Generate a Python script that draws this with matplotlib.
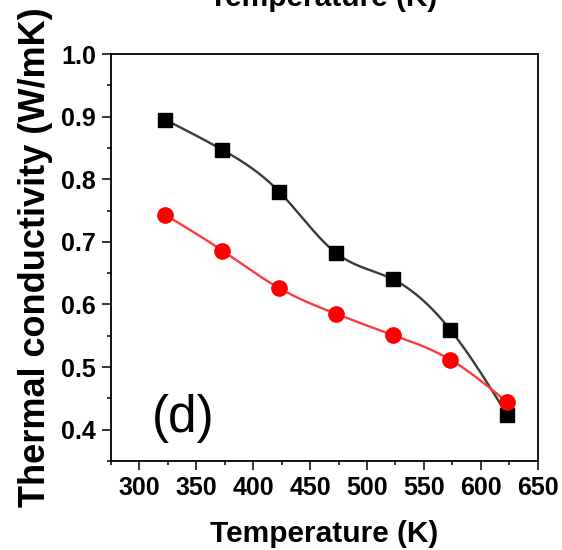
import numpy as np
import matplotlib
matplotlib.use("Agg")
import matplotlib.pyplot as plt
from matplotlib.ticker import MultipleLocator

plt.rcParams["font.family"] = ["Liberation Sans", "DejaVu Sans"]

# Measured thermal conductivity of the two samples
temperature = [323, 373, 423, 473, 523, 573, 623]
kappa_black = [0.895, 0.847, 0.780, 0.682, 0.640, 0.560, 0.424]
kappa_red = [0.743, 0.686, 0.626, 0.585, 0.551, 0.512, 0.444]

x_ticks = [300, 350, 400, 450, 500, 550, 600, 650]
y_ticks = [0.4, 0.5, 0.6, 0.7, 0.8, 0.9, 1.0]


def natural_spline(x, y, xs):
    """Natural cubic spline through (x, y), evaluated at xs."""
    x = np.asarray(x, float)
    y = np.asarray(y, float)
    n = len(x)
    h = np.diff(x)
    A = np.zeros((n, n))
    b = np.zeros(n)
    A[0, 0] = A[-1, -1] = 1.0
    for i in range(1, n - 1):
        A[i, i - 1] = h[i - 1]
        A[i, i] = 2 * (h[i - 1] + h[i])
        A[i, i + 1] = h[i]
        b[i] = 6 * ((y[i + 1] - y[i]) / h[i] - (y[i] - y[i - 1]) / h[i - 1])
    M = np.linalg.solve(A, b)
    idx = np.clip(np.searchsorted(x, xs) - 1, 0, n - 2)
    x0, x1 = x[idx], x[idx + 1]
    hh = x1 - x0
    t0 = x1 - xs
    t1 = xs - x0
    return (M[idx] * t0 ** 3 / (6 * hh) + M[idx + 1] * t1 ** 3 / (6 * hh)
            + (y[idx] / hh - M[idx] * hh / 6) * t0
            + (y[idx + 1] / hh - M[idx + 1] * hh / 6) * t1)


fig = plt.figure(figsize=(5.62, 5.50), dpi=100)
ax = fig.add_axes([0.197, 0.1618, 0.760, 0.740])

xs = np.linspace(temperature[0], temperature[-1], 400)
ax.plot(xs, natural_spline(temperature, kappa_black, xs), color="#3a3a3a", lw=1.7, zorder=2)
ax.plot(xs, natural_spline(temperature, kappa_red, xs), color="#ff3a3a", lw=1.7, zorder=2)
ax.plot(temperature, kappa_black, ls="none", marker="s", ms=10.5, color="black", zorder=3)
ax.plot(temperature, kappa_red, ls="none", marker="o", ms=11, color="red", zorder=4)

ax.set_xlim(275, 650)
ax.set_ylim(0.35, 1.0)
ax.set_xticks(x_ticks)
ax.set_yticks(y_ticks)
ax.set_xticklabels([str(v) for v in x_ticks])
ax.set_yticklabels([f"{v:.1f}" for v in y_ticks])
ax.xaxis.set_minor_locator(MultipleLocator(25))
ax.yaxis.set_minor_locator(MultipleLocator(0.05))

ax.tick_params(which="both", direction="out", top=False, right=False, width=1.1)
ax.tick_params(which="major", length=6.5, labelsize=18, pad=4)
ax.tick_params(which="minor", length=3)
for lbl in ax.get_xticklabels() + ax.get_yticklabels():
    lbl.set_fontweight("bold")
for sp in ax.spines.values():
    sp.set_linewidth(1.3)

ax.set_xlabel("Temperature (K)", fontsize=21.5, fontweight="bold", labelpad=15)
ax.set_ylabel("Thermal conductivity (W/mK)", fontsize=26, fontweight="bold", labelpad=6)

ax.text(0.097, 0.072, "(d)", transform=ax.transAxes, fontsize=37, ha="left", va="baseline")

# x-axis title of the panel above, clipped at the top edge
fig.text(0.575, 0.989, "Temperature (K)", fontsize=21.5, fontweight="bold",
         ha="center", va="baseline")

fig.savefig("out.png", dpi=100)
